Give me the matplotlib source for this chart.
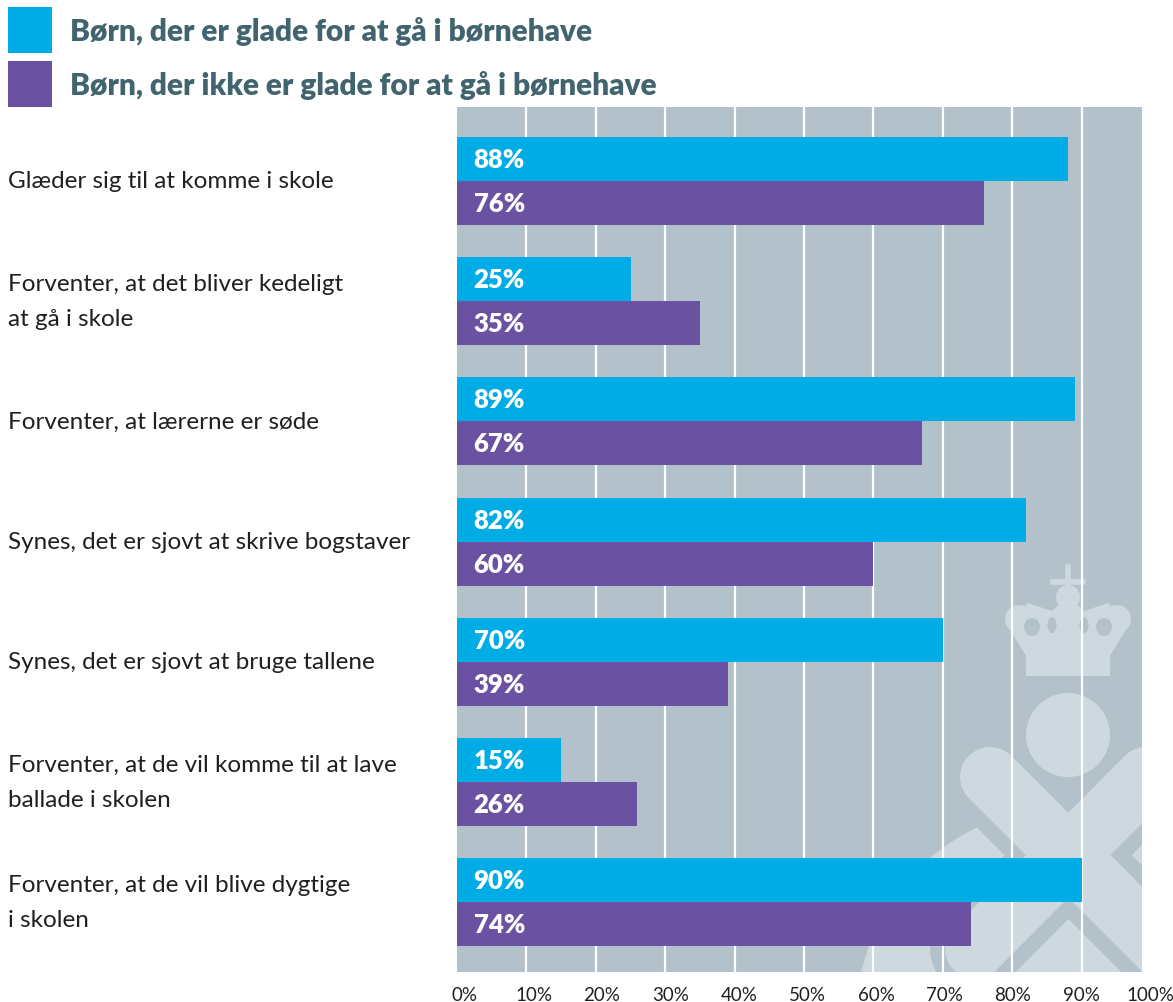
import numpy as np
import matplotlib.pyplot as plt
from matplotlib.patches import Rectangle, Circle, Ellipse, Polygon
from matplotlib.transforms import Affine2D, blended_transform_factory

plt.rcParams['font.family'] = ['Lato', 'DejaVu Sans']

# data
categories = [
    "Glæder sig til at komme i skole",
    "Forventer, at det bliver kedeligt\nat gå i skole",
    "Forventer, at lærerne er søde",
    "Synes, det er sjovt at skrive bogstaver",
    "Synes, det er sjovt at bruge tallene",
    "Forventer, at de vil komme til at lave\nballade i skolen",
    "Forventer, at de vil blive dygtige\ni skolen",
]
glade = [88, 25, 89, 82, 70, 15, 90]
ikke_glade = [76, 35, 67, 60, 39, 26, 74]
series_names = ["Børn, der er glade for at gå i børnehave",
                "Børn, der ikke er glade for at gå i børnehave"]
tick_values = list(range(0, 101, 10))

cyan = '#00ace6'
purple = '#6a51a2'
panel = '#b3c1ca'
light = '#cdd8df'
text_dark = '#231f20'
legend_col = '#41646f'

W, H = 1173, 1003
fig = plt.figure(figsize=(W / 100, H / 100), dpi=100)

# axes box in pixels: left 457, right 1142, top 108, bottom 973
ax = fig.add_axes([457 / W, (H - 973) / H, (1142 - 457) / W, (973 - 108) / H])
ax.set_facecolor(panel)
for s in ax.spines.values():
    s.set_visible(False)
ax.set_xticks([])
ax.set_yticks([])

# pixel transform (y from top) for the watermark
pt = Affine2D().scale(0.01, -0.01).translate(0, H / 100) + fig.dpi_scale_trans

# watermark: bowl, X bands, circle, crown
ax.add_patch(Circle((1068, 1020), 212, transform=pt, color=light, lw=0, zorder=0.5))
bandA = [(990, 778), (1260, 1048)]
bandB = [(1146, 778), (975, 950)]
for (p0, p1) in (bandA, bandB):
    ax.plot([p0[0], p1[0]], [p0[1], p1[1]], transform=pt, color=panel,
            lw=90 * 0.72, solid_capstyle='round', zorder=0.6)
for (p0, p1) in (bandA, bandB):
    ax.plot([p0[0], p1[0]], [p0[1], p1[1]], transform=pt, color=light,
            lw=60 * 0.72, solid_capstyle='round', zorder=0.7)
ax.add_patch(Circle((1068, 736), 42, transform=pt, color=light, lw=0, zorder=0.7))

crown = Polygon([(1006, 624), (1028, 604), (1052, 612), (1068, 598), (1084, 612),
                 (1108, 604), (1130, 624), (1110, 657), (1026, 657)],
                closed=True, transform=pt, color=light, lw=0, zorder=0.7)
ax.add_patch(crown)
ax.add_patch(Rectangle((1026, 657), 84, 20, transform=pt, color=light, lw=0, zorder=0.7))
ax.add_patch(Circle((1019, 620), 14, transform=pt, color=light, lw=0, zorder=0.7))
ax.add_patch(Circle((1117, 620), 14, transform=pt, color=light, lw=0, zorder=0.7))
ax.add_patch(Circle((1068, 598), 12, transform=pt, color=light, lw=0, zorder=0.7))
for cx in (1032, 1104):
    ax.add_patch(Ellipse((cx, 628), 16, 18, transform=pt, color=panel, lw=0, zorder=0.75))
for cx in (1052, 1084):
    ax.add_patch(Ellipse((cx, 626), 9, 16, transform=pt, color=panel, lw=0, zorder=0.75))
ax.plot([1068, 1068], [568, 592], transform=pt, color=light, lw=4, zorder=0.7)
ax.plot([1053, 1083], [583, 583], transform=pt, color=light, lw=4, zorder=0.7)

# grid
for v in tick_values[1:-1]:
    ax.axvline(v, color='white', lw=1.6, zorder=1)

# bars
y = np.arange(len(categories))
h = 0.366
ax.barh(y - h / 2, glade, height=h, color=cyan, lw=0, zorder=2)
ax.barh(y + h / 2, ikke_glade, height=h, color=purple, lw=0, zorder=2)
for yi, a, b in zip(y, glade, ikke_glade):
    ax.text(2.4, yi - h / 2, f"{a}%", color='white', fontsize=18.5, fontweight='heavy',
            va='center', ha='left', zorder=3)
    ax.text(2.4, yi + h / 2, f"{b}%", color='white', fontsize=18.5, fontweight='heavy',
            va='center', ha='left', zorder=3)

ax.set_xlim(0, (1142 - 457) / 6.94)
ax.set_ylim((973 - 182) / 120.2, (108 - 182) / 120.2)

# x tick labels (100% sits past the panel edge)
tb = blended_transform_factory(ax.transData, ax.transAxes)
for v in tick_values:
    ax.text(v * 0.987 + 1.15, -0.026, f"{v}%", transform=tb, ha='center', va='center',
            fontsize=13.5, color=text_dark, clip_on=False)

# category labels
lt = blended_transform_factory(fig.transFigure, ax.transData)
for yi, c in zip(y, categories):
    ax.text(8 / W, yi, c, transform=lt, ha='left', va='center', fontsize=17.5,
            color=text_dark, linespacing=1.82, clip_on=False)

# legend
for i, (name, col) in enumerate(zip(series_names, [cyan, purple])):
    top = 8 + i * 54
    fig.patches.append(Rectangle((8 / W, 1 - (top + 46) / H), 44 / W, 46 / H,
                                 transform=fig.transFigure, color=col, lw=0))
    fig.text(70 / W, 1 - (top + 23) / H, name, ha='left', va='center',
             fontsize=21.5, fontweight='heavy', color=legend_col)

fig.savefig('out.png', dpi=100)
